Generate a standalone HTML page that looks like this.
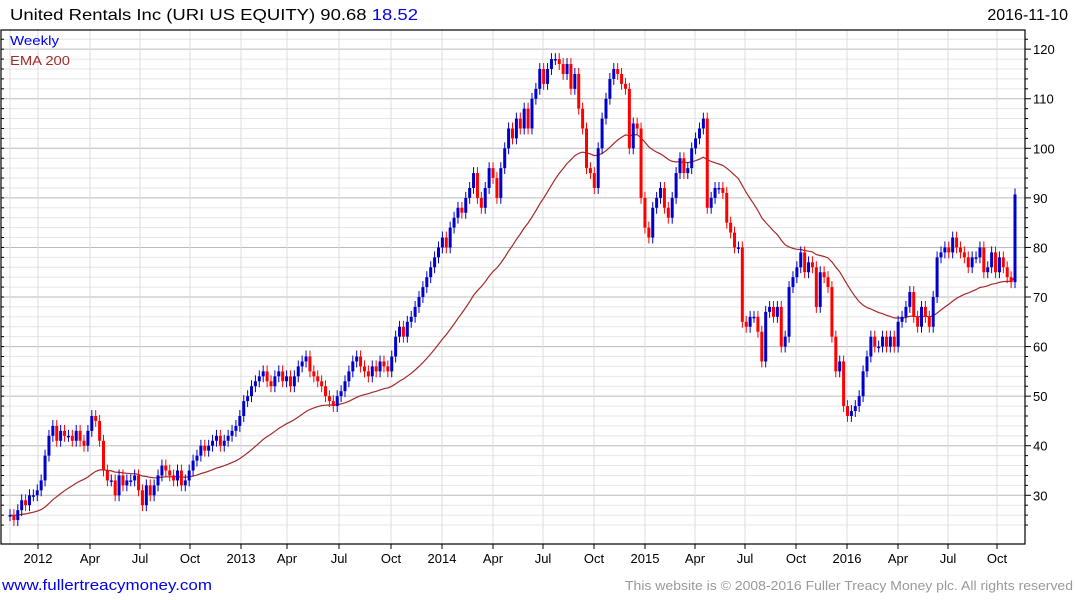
<!DOCTYPE html>
<html><head><meta charset="utf-8"><style>
body{margin:0;background:#fff;font-family:"Liberation Sans",sans-serif}
svg{display:block}
</style></head><body>
<svg id="c" width="1075" height="600" xmlns="http://www.w3.org/2000/svg">
<text x="10" y="20" font-size="16" fill="#000" textLength="408" lengthAdjust="spacingAndGlyphs">United Rentals Inc (URI US EQUITY) 90.68 <tspan fill="#0000ee">18.52</tspan></text>
<text x="1068" y="20" font-size="16" text-anchor="end" fill="#000">2016-11-10</text>
<g id="grid"></g><g id="ema"></g><g id="candles"></g><g id="axes"></g>
<text x="10" y="45" font-size="13" fill="#0000ee" textLength="49" lengthAdjust="spacingAndGlyphs">Weekly</text>
<text x="10" y="65" font-size="13" fill="#a52a2a" textLength="60" lengthAdjust="spacingAndGlyphs">EMA 200</text>
<text x="2" y="590" font-size="15" fill="#0000ee" textLength="210" lengthAdjust="spacingAndGlyphs">www.fullertreacymoney.com</text>
<text x="625" y="590" font-size="13" fill="#999" textLength="448" lengthAdjust="spacingAndGlyphs">This website is © 2008-2016 Fuller Treacy Money plc. All rights reserved</text>
</svg>
<script>
const closes=[26,25,27,29,28,30,30,
31,33,38,42,44,41,43,42,42,41,43,41,40,
43,46,45,41,35,33,33,30,34,32,33,33,34,
31,28,32,30,32,34,36,35,34,33,35,32,33,
35,37,38,40,39,40,41,42,40,41,42,43,44,
46,49,50,52,53,54,55,53,52,54,55,53,54,
52,54,56,57,58,55,54,53,52,50,49,48,50,
51,53,55,57,58,56,55,54,56,55,57,56,55,
58,62,64,62,65,66,68,70,72,74,76,78,80,
82,80,84,86,88,87,90,92,95,90,88,92,96,
94,90,96,100,104,102,106,104,108,104,110,112,116,
113,116,118,118,117,115,117,112,115,108,104,96,95,
92,100,106,110,114,116,115,113,112,100,105,104,90,
84,82,88,90,92,88,86,90,95,98,95,96,100,
102,104,106,88,90,92,92,91,85,83,80,80,65,
64,66,66,63,57,67,68,66,68,60,62,72,74,
76,79,75,77,76,68,75,74,72,62,55,57,48,
46,47,48,50,55,58,62,60,60,62,60,62,60,
65,66,68,71,66,64,68,66,64,70,78,79,80,
79,82,80,79,78,76,78,78,80,75,76,79,75,
78,76,74,73,90.68];
const yTicks=[30,40,50,60,70,80,90,100,110,120];
const xLabels=["2012","Apr","Jul","Oct","2013","Apr","Jul","Oct","2014","Apr","Jul","Oct","2015","Apr","Jul","Oct","2016","Apr","Jul","Oct"];
const xLabelPos=[38,90,140,190,241,287,339,391,442,493,543,594,645,695,745,796,847,898,948,997];
const NS="http://www.w3.org/2000/svg";
const L=1,R=1025,T=30,B=544;
const y=v=>148.3-(v-100)*4.957;
const x=i=>10+i*(1005/(closes.length-1));
function mk(tag,attrs,parent){const e=document.createElementNS(NS,tag);for(const k in attrs)e.setAttribute(k,attrs[k]);parent.appendChild(e);return e;}
const grid=document.getElementById('grid'),axes=document.getElementById('axes');
for(let v=24;v<=124;v+=2){const yy=y(v);if(yy<T||yy>B)continue;
 const ln=mk('line',{x1:L,x2:R,y1:yy,y2:yy,stroke:v%10===0?'#bbb':'#e6e6e6','stroke-width':1},grid);
 
 const tk=mk('line',{x1:R,x2:R+(v%10===0?6:3),y1:yy,y2:yy,stroke:'#000'},axes);
 
 const tk2=mk('line',{x1:L,x2:L+3,y1:yy,y2:yy,stroke:'#000'},axes);
 }
[10].concat(xLabelPos).forEach(px=>{const ln=mk('line',{x1:px,x2:px,y1:T,y2:B,stroke:'#ddd'},grid);
 });
yTicks.forEach(v=>{const t=mk('text',{x:1033,y:y(v)+5,'font-size':13,fill:'#000'},axes);t.textContent=v;
 });
xLabels.forEach((s,i)=>{const t=mk('text',{x:xLabelPos[i],y:563,'font-size':13,'text-anchor':'middle',fill:'#000'},axes);t.textContent=s;
 
 const tk=mk('line',{x1:xLabelPos[i],x2:xLabelPos[i],y1:B,y2:B+5,stroke:'#000'},axes);
 });
const fr=mk('rect',{x:L,y:T,width:R-L,height:B-T,fill:'none',stroke:'#000','stroke-width':1.2},axes);

const a=2/41;let e=closes[0],pts=[];
closes.forEach((c,i)=>{e=i===0?c:e+a*(c-e);pts.push(x(i).toFixed(1)+','+y(e).toFixed(1));});
const pl=mk('polyline',{points:pts.join(' '),fill:'none',stroke:'#a52a2a','stroke-width':1.2},document.getElementById('ema'));

const cg=document.getElementById('candles');
closes.forEach((c,i)=>{const o=i===0?c:closes[i-1];const up=c>=o;const col=up?'#0000cc':'#ff0000';
 const hi=Math.max(o,c)+1.2,lo=Math.min(o,c)-1.2,xx=x(i);
 const w=mk('line',{x1:xx,x2:xx,y1:y(hi),y2:y(lo),stroke:col,'stroke-width':1},cg);
 
 const top=y(Math.max(o,c)),h=Math.max(1.5,y(Math.min(o,c))-top);
 const b=mk('rect',{x:xx-1.5,y:top,width:3,height:h,fill:col},cg);
 });
</script>
</body></html>
